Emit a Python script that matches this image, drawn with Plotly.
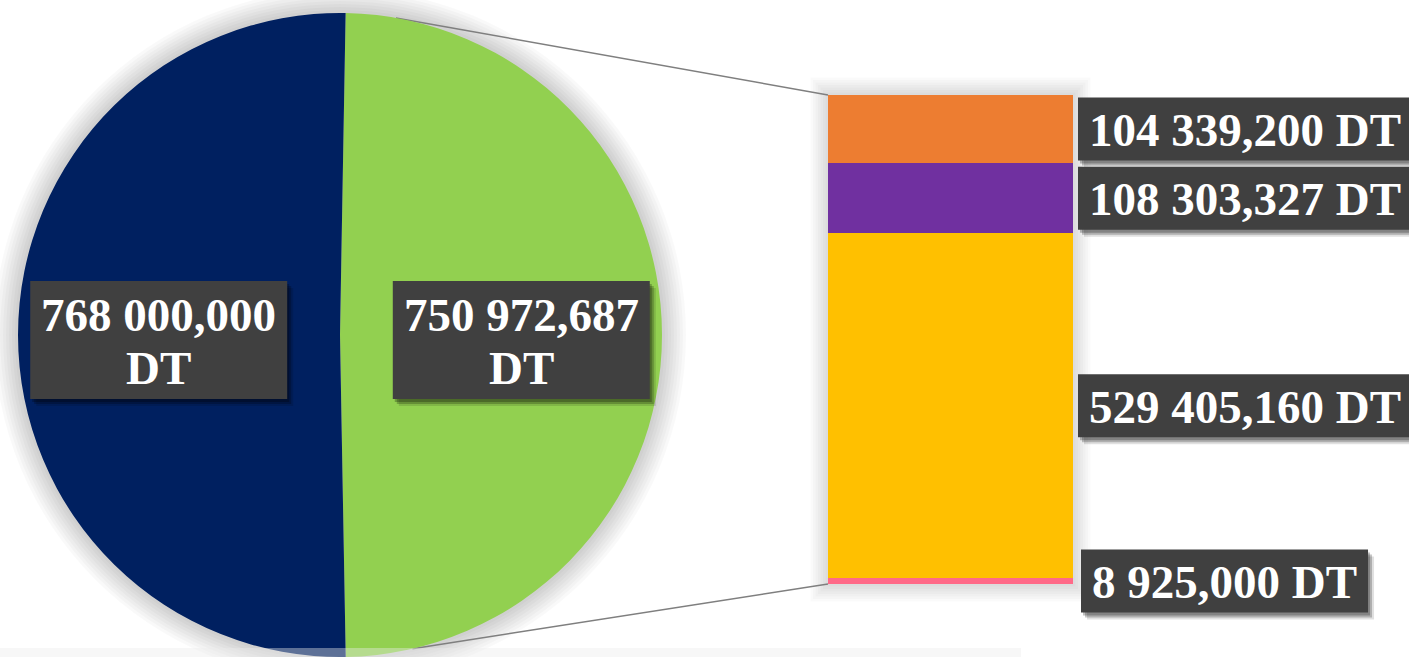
import math
import plotly.graph_objects as go

# ---------------- data ----------------
pie_labels = ["Montant principal", "Détail"]
pie_values = [750972.687, 768000.000]          # green (detailed), navy
pie_colors = ["#92D050", "#002060"]

bar_labels = ["Poste 1", "Poste 2", "Poste 3", "Poste 4"]      # top -> bottom
bar_values = [104339.200, 108303.327, 529405.160, 8925.000]
bar_colors = ["#ED7D31", "#7030A0", "#FFC000", "#FF6A88"]

# ---------------- helpers ----------------
W, H = 1409, 657
FONT = "Liberation Serif, Times New Roman, serif"
FS = 47
BOX = "#404040"


def fmt(v):
    s = f"{v:,.3f}"
    return s.replace(",", " ").replace(".", ",") + " DT"


def em(s):
    w = {" ": 0.25, ",": 0.25, "D": 0.722, "T": 0.667}
    return sum(w.get(c, 0.5) for c in s)


def px(x):
    return x / W


def py(y):
    return 1 - y / H


# pie geometry (pixels, y from top)
cx, cy, r = 340, 335, 322
pie_dom_x = [px(cx - r), px(cx + r)]
pie_dom_y = [py(cy + r), py(cy - r)]

# bar geometry
bar_left, bar_right, bar_top, bar_bot = 828, 1073, 95, 584
total = sum(bar_values)
ydom = [py(bar_bot), py(bar_top)]

fig = go.Figure()

fig.add_trace(go.Pie(
    labels=pie_labels, values=pie_values, sort=False, direction="clockwise",
    rotation=1, marker=dict(colors=pie_colors, line=dict(width=0)),
    textinfo="none", hoverinfo="label+value", showlegend=False,
    domain=dict(x=pie_dom_x, y=pie_dom_y),
))

# stacked bar (bottom trace first)
for lab, val, col in reversed(list(zip(bar_labels, bar_values, bar_colors))):
    fig.add_trace(go.Bar(x=[0], y=[val], name=lab, marker=dict(color=col, line=dict(width=0)),
                         width=1, showlegend=False, hoverinfo="name+y"))

shapes = []
# soft glow around the pie
for k in range(8, 0, -1):
    rr = r + 3 * k
    shapes.append(dict(type="circle", xref="paper", yref="paper", layer="below",
                       x0=px(cx - rr), x1=px(cx + rr), y0=py(cy + rr), y1=py(cy - rr),
                       fillcolor="rgba(0,0,0,0.022)", line=dict(width=0)))
# soft glow around the bar
for k in range(7, 0, -1):
    g = 2.5 * k
    shapes.append(dict(type="rect", xref="paper", yref="paper", layer="below",
                       x0=px(bar_left - g), x1=px(bar_right + g),
                       y0=py(bar_bot + g), y1=py(bar_top - g),
                       fillcolor="rgba(0,0,0,0.02)", line=dict(width=0)))

# connector lines from the pie to the bar corners
a_top, a_bot = math.radians(10), math.radians(167)
for a, yb in [(a_top, bar_top), (a_bot, bar_bot)]:
    x0p = cx + r * math.sin(a)
    y0p = cy - r * math.cos(a)
    shapes.append(dict(type="line", xref="paper", yref="paper", layer="below",
                       x0=px(x0p), y0=py(y0p), x1=px(bar_left), y1=py(yb),
                       line=dict(color="#7F7F7F", width=1.5)))

annotations = []


def box_shapes(x0, x1, y0, y1):
    for dx, dy, a in [(6, 7, 0.12), (4, 5, 0.22), (2, 3, 0.25)]:
        shapes.append(dict(type="rect", xref="paper", yref="paper", layer="above",
                           x0=px(x0 + dx), x1=px(x1 + dx), y0=py(y1 + dy), y1=py(y0 + dy),
                           fillcolor=f"rgba(0,0,0,{a})", line=dict(width=0)))
    shapes.append(dict(type="rect", xref="paper", yref="paper", layer="above",
                       x0=px(x0), x1=px(x1), y0=py(y1), y1=py(y0),
                       fillcolor=BOX, line=dict(width=0)))


def text_ann(xc, yc, text):
    annotations.append(dict(
        xref="paper", yref="paper", x=px(xc), y=py(yc), xanchor="center", yanchor="middle",
        text=text, showarrow=False, align="center",
        font=dict(family=FONT, size=FS, color="white", weight="bold")))


# pie labels (green on the right, navy on the left) - two lines each
fr = 0.563
start = 1.0
for val in pie_values:
    span = 360 * val / sum(pie_values)
    mid = math.radians(start + span / 2)
    start += span
    lx = cx + fr * r * math.sin(mid)
    ly = cy - fr * r * math.cos(mid) + 5
    num = fmt(val)[:-3]
    w = em(num) * FS + 22
    box_shapes(lx - w / 2, lx + w / 2, ly - 59, ly + 59)
    text_ann(lx, ly - 25, num)
    text_ann(lx, ly + 28, "DT")

# bar labels at the centre of each segment
cum = total
for i, val in enumerate(bar_values):
    mid_val = cum - val / 2
    cum -= val
    yc = bar_bot - (mid_val / total) * (bar_bot - bar_top)
    t = fmt(val)
    w = em(t) * FS + 22
    x0 = bar_right + (8 if i == len(bar_values) - 1 else 5)
    box_shapes(x0, x0 + w, yc - 31.5, yc + 31.5)
    text_ann(x0 + w / 2, yc + 1, t)

# faint light strip at the bottom edge
shapes.append(dict(type="rect", xref="paper", yref="paper", layer="above",
                   x0=0, x1=px(1021), y0=0, y1=py(648),
                   fillcolor="rgba(235,235,235,0.4)", line=dict(width=0)))

fig.update_layout(
    width=W, height=H, margin=dict(l=0, r=0, t=0, b=0),
    paper_bgcolor="white", plot_bgcolor="rgba(0,0,0,0)",
    barmode="stack", bargap=0,
    xaxis=dict(domain=[px(bar_left), px(bar_right)], range=[-0.5, 0.5], visible=False, fixedrange=True),
    yaxis=dict(domain=ydom, range=[0, total], visible=False, fixedrange=True),
    shapes=shapes, annotations=annotations, showlegend=False,
)

fig.write_html("out.html", config={"displayModeBar": False},
               post_script="document.body.style.margin='0';document.body.style.overflow='hidden';")
